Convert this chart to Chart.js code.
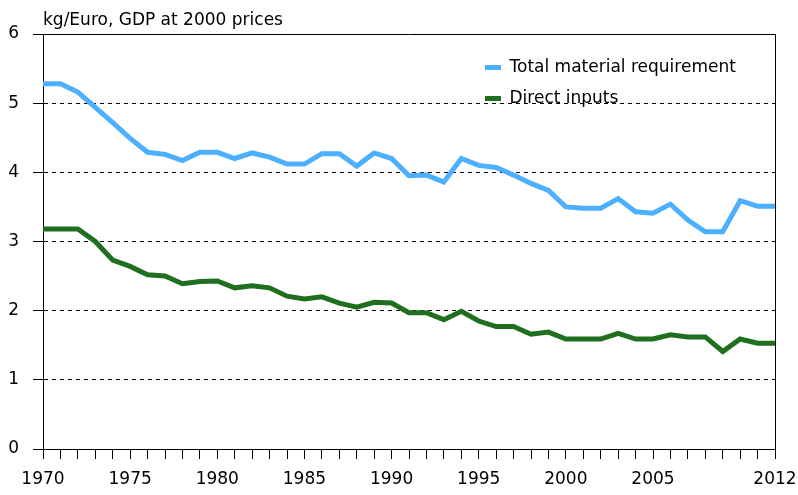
<!DOCTYPE html>
<html>
<head>
<meta charset="utf-8">
<script src="https://cdn.jsdelivr.net/npm/chart.js@4"></script>
<style>
html,body{margin:0;padding:0;background:#fff;}
canvas{display:block;}
</style>
</head>
<body>
<canvas id="c" width="798" height="495"></canvas>
<script>
const years = ['1970','1971','1972','1973','1974','1975','1976','1977','1978','1979',
  '1980','1981','1982','1983','1984','1985','1986','1987','1988','1989',
  '1990','1991','1992','1993','1994','1995','1996','1997','1998','1999',
  '2000','2001','2002','2003','2004','2005','2006','2007','2008','2009',
  '2010','2011','2012'];
const totalMaterialRequirement = [5.28,5.28,5.16,4.94,4.72,4.49,4.29,4.26,4.17,4.29,
  4.29,4.20,4.28,4.22,4.12,4.12,4.27,4.27,4.09,4.28,
  4.20,3.95,3.96,3.86,4.20,4.10,4.07,3.96,3.84,3.74,
  3.50,3.48,3.48,3.62,3.43,3.41,3.54,3.31,3.14,3.14,
  3.59,3.51,3.51];
const directInputs = [3.18,3.18,3.18,3.00,2.73,2.64,2.52,2.50,2.39,2.42,
  2.43,2.33,2.36,2.33,2.21,2.17,2.20,2.11,2.05,2.12,
  2.11,1.97,1.97,1.87,1.99,1.85,1.77,1.77,1.66,1.69,
  1.59,1.59,1.59,1.67,1.59,1.59,1.65,1.62,1.62,1.41,
  1.59,1.53,1.53];
const xTickLabels = ['1970','1975','1980','1985','1990','1995','2000','2005','2012'];
const seriesNames = ['Total material requirement','Direct inputs'];
const unitTitle = 'kg/Euro, GDP at 2000 prices';

const BLUE = '#4DAFFF';
const GREEN = '#1F6F1F';
const FONT_SIZE = 17;

Chart.defaults.font.family = '"DejaVu Sans", sans-serif';
Chart.defaults.font.size = FONT_SIZE;
Chart.defaults.color = '#000';

const legendPlacer = {
  id: 'legendPlacer',
  afterLayout(chart) {
    const lg = chart.legend;
    if (!lg) return;
    lg.left = 471;
    lg.top = 45;
    lg.right = lg.left + lg.width;
    lg.bottom = lg.top + lg.height;
  }
};

new Chart(document.getElementById('c'), {
  type: 'line',
  data: {
    labels: years,
    datasets: [
      { label: seriesNames[0], data: totalMaterialRequirement, borderColor: BLUE, backgroundColor: BLUE,
        borderWidth: 5, pointRadius: 0, tension: 0, fill: false, yAxisID: 'y' },
      { label: seriesNames[1], data: directInputs, borderColor: GREEN, backgroundColor: GREEN,
        borderWidth: 5, pointRadius: 0, tension: 0, fill: false, yAxisID: 'y' }
    ]
  },
  options: {
    responsive: false,
    animation: false,
    devicePixelRatio: 1,
    layout: { padding: { left: 0, right: 23, top: 0, bottom: 0 } },
    plugins: {
      title: {
        display: true, text: unitTitle, align: 'start', fullSize: false, color: '#000',
        font: { size: FONT_SIZE, weight: 'normal' }, padding: { top: 10, bottom: 3.6 }
      },
      legend: {
        display: true, position: 'chartArea', align: 'start',
        labels: {
          boxWidth: 16, boxHeight: 5, padding: 14, color: '#000', font: { size: FONT_SIZE },
          generateLabels(chart) {
            return Chart.defaults.plugins.legend.labels.generateLabels(chart)
              .map(l => Object.assign({}, l, { lineWidth: 0, fillStyle: l.strokeStyle }));
          }
        }
      },
      tooltip: { enabled: false }
    },
    scales: {
      x: {
        type: 'category', offset: false,
        grid: { display: true, drawOnChartArea: false, drawTicks: true, tickLength: 10, color: '#000', tickColor: '#000' },
        border: { display: true, color: '#000', width: 1 },
        ticks: {
          autoSkip: false, maxRotation: 0, minRotation: 0, padding: 10, color: '#000',
          callback(v, i) { const l = years[i]; return xTickLabels.includes(l) ? l : ''; }
        },
        afterFit(s) { s.height = 46; s.paddingLeft = 0; s.paddingRight = 0; }
      },
      y: {
        min: 0, max: 6,
        ticks: { stepSize: 1, padding: 14, color: '#000' },
        grid: { color: '#000', lineWidth: 1, tickLength: 10, tickColor: '#000', drawTicks: true },
        border: { display: true, color: '#000', width: 1,
          dash: (ctx) => (ctx.tick && ctx.tick.value === 6) ? [] : [4, 4] },
        afterFit(s) { s.width = 43; s.paddingTop = 0; s.paddingBottom = 0; }
      },
      y2: {
        position: 'right', min: 0, max: 6,
        grid: { display: false, drawTicks: false },
        ticks: { display: false },
        border: { display: true, color: '#000', width: 1 },
        afterFit(s) { s.width = 0; s.paddingTop = 0; s.paddingBottom = 0; }
      }
    }
  },
  plugins: [legendPlacer]
});
</script>
</body>
</html>
